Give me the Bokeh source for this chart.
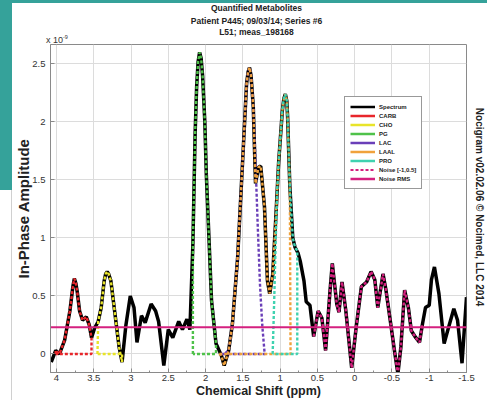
import math
from bokeh.plotting import figure
from bokeh.models import (Range1d, FixedTicker, NumeralTickFormatter, LinearAxis,
                          Legend, LegendItem, Div)
from bokeh.layouts import column, row
from bokeh.embed import file_html
from bokeh.resources import INLINE

# ---------------- data ----------------
spec_ppm = [4.07, 4.01, 3.96, 3.89, 3.82, 3.78, 3.76, 3.74, 3.72, 3.69, 3.65, 3.60, 3.56, 3.53,
            3.49, 3.44, 3.40, 3.36, 3.34, 3.32, 3.30, 3.27, 3.22, 3.16, 3.12, 3.07, 3.01, 2.96,
            2.92, 2.86, 2.81, 2.73, 2.67, 2.63, 2.56, 2.50, 2.44, 2.36, 2.31, 2.25, 2.21, 2.17,
            2.14, 2.12, 2.10, 2.08, 2.06, 2.04, 2.01, 1.99, 1.92, 1.86, 1.79, 1.75, 1.69, 1.64,
            1.57, 1.50, 1.45, 1.43, 1.41, 1.39, 1.36, 1.33, 1.29, 1.26, 1.21, 1.17, 1.14, 1.10,
            1.06, 1.02, 0.97, 0.95, 0.93, 0.91, 0.90, 0.87, 0.83, 0.80, 0.76, 0.73, 0.68, 0.65,
            0.60, 0.55, 0.49, 0.44, 0.39, 0.33, 0.30, 0.24, 0.21, 0.17, 0.12, 0.04, -0.02, -0.09,
            -0.16, -0.22, -0.27, -0.31, -0.38, -0.42, -0.49, -0.54, -0.58, -0.62, -0.67, -0.72,
            -0.76, -0.82, -0.87, -0.91, -0.95, -1.00, -1.03, -1.07, -1.13, -1.20, -1.26, -1.33,
            -1.38, -1.44, -1.50]
spec_amp = [-0.07, 0.03, 0.00, 0.12, 0.37, 0.58, 0.65, 0.61, 0.53, 0.37, 0.29, 0.32, 0.25, 0.14,
            0.22, 0.28, 0.40, 0.63, 0.69, 0.71, 0.69, 0.63, 0.37, 0.06, -0.07, 0.24, 0.50, 0.40,
            0.10, 0.33, 0.27, 0.43, 0.37, 0.28, -0.10, 0.21, 0.14, 0.28, 0.21, 0.30, 0.21, 0.95,
            1.90, 2.30, 2.52, 2.60, 2.55, 2.40, 2.00, 1.55, 0.46, 0.09, -0.01, -0.10, 0.03, 0.26,
            0.83, 1.70, 2.33, 2.43, 2.47, 2.40, 2.13, 1.47, 1.61, 1.62, 1.27, 0.63, 0.52, 0.68,
            1.15, 1.65, 2.10, 2.20, 2.24, 2.18, 2.05, 1.45, 1.00, 0.92, 0.87, 0.80, 0.63, 0.45,
            0.42, 0.15, 0.37, 0.31, 0.03, 0.55, 0.78, 0.43, 0.36, 0.62, 0.38, -0.12, 0.23, 0.58,
            0.62, 0.71, 0.64, 0.40, 0.69, 0.55, 0.23, 0.00, -0.17, 0.06, 0.55, 0.40,
            0.20, 0.14, 0.10, 0.26, 0.40, 0.42, 0.64, 0.75, 0.52, 0.09, 0.23, 0.39,
            0.29, -0.08, 0.49]

# windows (ppm) where a metabolite follows the spectrum
carb_window = (3.53, 4.01)
cho_window = (3.12, 3.45)
pg_window = (1.86, 2.17)
laal_window = (0.86, 1.82)
noise_window = (-0.92, 0.55)

# metabolites with their own fitted shape
lac_ppm = [1.80, 1.75, 1.69, 1.64, 1.57, 1.50, 1.45, 1.43, 1.41, 1.39, 1.36, 1.33, 1.30, 1.27, 1.24, 1.21, 1.20, 1.80]
lac_amp = [0.00, 0.00, 0.03, 0.26, 0.83, 1.70, 2.33, 2.43, 2.47, 2.40, 2.13, 1.65, 1.10, 0.60, 0.25, 0.02, 0.00, 0.00]
pro_ppm = [1.10, 1.08, 1.06, 1.04, 1.02, 0.97, 0.95, 0.93, 0.91, 0.90, 0.87, 0.83, 0.80, 0.77, 0.77, 1.10]
pro_amp = [0.00, 0.45, 0.95, 1.40, 1.65, 2.10, 2.20, 2.24, 2.18, 2.05, 1.45, 1.00, 0.92, 0.89, 0.00, 0.00]

noise_rms = 0.23

x_ticks = [4, 3.5, 3, 2.5, 2, 1.5, 1, 0.5, 0, -0.5, -1, -1.5]
x_minor = [4, 3.75, 3.5, 3.25, 3, 2.75, 2.5, 2.25, 2, 1.75, 1.5, 1.25, 1, 0.75, 0.5, 0.25,
           0, -0.25, -0.5, -0.75, -1, -1.25, -1.5]
y_ticks = [0, 0.5, 1, 1.5, 2, 2.5]

legend_labels = ["Spectrum", "CARB", "CHO", "PG", "LAC", "LAAL", "PRO", "Noise [-1,0.5]", "Noise RMS"]
colors = {"Spectrum": "#000000", "CARB": "#e8262b", "CHO": "#e8e42a", "PG": "#4fc24a",
          "LAC": "#6a3fb8", "LAAL": "#f0a23c", "PRO": "#3fd2b0",
          "Noise [-1,0.5]": "#d4207f", "Noise RMS": "#d4207f"}

title_lines = ["Quantified Metabolites", "Patient P445; 09/03/14; Series #6", "L51; meas_198168"]
scale_text = "x 10<sup style='font-size:5.5px'>-9</sup>"
credit_text = "Nocigram v02.02.06 \u00a9 Nocimed, LLC  2014"

FONT = "Liberation Sans"
TEAL = "#35a29a"


def window_path(lo, hi, baseline=True):
    xs = [x for x in spec_ppm if lo <= x <= hi]
    ys = [y for x, y in zip(spec_ppm, spec_amp) if lo <= x <= hi]
    if baseline:
        xs = [hi] + xs + [lo, hi]
        ys = [0.0] + ys + [0.0, 0.0]
    return xs, ys


# ---------------- figure ----------------
p = figure(width=475, height=356, title=None, margin=0,
           x_range=Range1d(4.08, -1.5), y_range=Range1d(-0.16, 2.668),
           output_backend="svg", toolbar_location=None,
           min_border_left=34, min_border_right=20, min_border_top=0, min_border_bottom=28)
p.background_fill_color = "white"
p.border_fill_color = "white"
p.outline_line_color = "#8a8a8a"
p.outline_line_width = 1

for ax in (p.xaxis[0], p.yaxis[0]):
    ax.axis_line_color = "#8a8a8a"
    ax.major_tick_line_color = "#8a8a8a"
    ax.minor_tick_line_color = "#8a8a8a"
    ax.major_tick_in = 4
    ax.major_tick_out = 0
    ax.minor_tick_in = 2
    ax.minor_tick_out = 0
    ax.major_label_text_font = FONT
    ax.major_label_text_font_size = "9.5px"
    ax.major_label_text_color = "#333333"
    ax.formatter = NumeralTickFormatter(format="0.[0]")
    ax.axis_label_text_font = FONT
    ax.axis_label_text_font_style = "bold"
    ax.axis_label_text_color = "#222222"
p.xaxis[0].ticker = FixedTicker(ticks=x_ticks, minor_ticks=x_minor)
p.yaxis[0].ticker = FixedTicker(ticks=y_ticks, minor_ticks=[])
p.xaxis[0].major_label_standoff = 2
p.yaxis[0].major_label_standoff = 5
p.xaxis[0].axis_label = "Chemical Shift (ppm)"
p.xaxis[0].axis_label_text_font_size = "12.5px"
p.xaxis[0].axis_label_standoff = 0
p.yaxis[0].axis_label = "In-Phase Amplitude"
p.yaxis[0].axis_label_text_font_size = "15px"
p.yaxis[0].axis_label_standoff = -3

right_ax = LinearAxis(ticker=FixedTicker(ticks=[], minor_ticks=[]), axis_line_color=None,
                      major_label_standoff=0, axis_label=credit_text,
                      axis_label_text_font=FONT, axis_label_text_font_style="bold",
                      axis_label_text_font_size="10px", axis_label_text_color="#222222",
                      axis_label_standoff=7)
p.add_layout(right_ax, "right")

p.xgrid.ticker = FixedTicker(ticks=x_ticks)
p.ygrid.ticker = FixedTicker(ticks=y_ticks)
p.xgrid.grid_line_color = "#dcdcdc"
p.ygrid.grid_line_color = "#dcdcdc"

# ---------------- lines ----------------
p.line(spec_ppm, spec_amp, color=colors["Spectrum"], line_width=3.5)

DASH = "3 2"
W = 2.4
xs, ys = window_path(*carb_window)
p.line(xs, ys, color=colors["CARB"], line_width=W, line_dash=DASH)
xs, ys = window_path(*cho_window)
p.line(xs, ys, color=colors["CHO"], line_width=W, line_dash=DASH)
xs, ys = window_path(*pg_window)
p.line(xs, ys, color=colors["PG"], line_width=W, line_dash=DASH)
p.line(lac_ppm, lac_amp, color=colors["LAC"], line_width=W, line_dash=DASH)
xs, ys = window_path(*laal_window)
p.line(xs, ys, color=colors["LAAL"], line_width=W, line_dash=DASH)
p.line(pro_ppm, pro_amp, color=colors["PRO"], line_width=W, line_dash=DASH)
xs, ys = window_path(*noise_window, baseline=False)
p.line(xs, ys, color=colors["Noise [-1,0.5]"], line_width=W, line_dash=DASH)
p.line([p.x_range.start, p.x_range.end], [noise_rms, noise_rms],
       color=colors["Noise RMS"], line_width=2)

# ---------------- legend (sample glyphs only) ----------------
items = []
for lab in legend_labels:
    if lab == "Noise [-1,0.5]":
        r = p.line([math.nan], [math.nan], color=colors[lab], line_width=2, line_dash="3 2")
    else:
        r = p.line([math.nan], [math.nan], color=colors[lab], line_width=2.5)
    items.append(LegendItem(label=lab, renderers=[r]))
legend = Legend(items=items, location=(294, 183), margin=0, padding=5, spacing=0,
                glyph_width=25, glyph_height=9, label_height=9, label_standoff=4,
                label_text_font=FONT, label_text_font_style="bold",
                label_text_font_size="6px", label_text_color="#222222",
                border_line_color="#333333", border_line_width=1,
                background_fill_color="white", background_fill_alpha=1)
p.add_layout(legend)

# ---------------- title block and slide edge ----------------
line_tops = [3, 15.5, 27]
parts = ["<div style=\"position:relative;width:487px;height:44px;overflow:hidden;background:#fff;"
         "font-family:'Liberation Sans',Arial,sans-serif;color:#222;\">",
         f"<div style='position:absolute;left:0;top:0;width:487px;height:3px;background:{TEAL};'></div>",
         f"<div style='position:absolute;left:0;top:0;width:12px;height:44px;background:{TEAL};'></div>"]
for t, top in zip(title_lines, line_tops):
    parts.append(f"<div style='position:absolute;left:46px;width:421px;top:{top}px;text-align:center;"
                 f"font-weight:bold;font-size:8.5px;line-height:10px;white-space:nowrap;'>{t}</div>")
parts.append("<div style='position:absolute;left:46px;top:32px;font-size:9px;line-height:11px;"
             f"color:#333;white-space:nowrap;'>{scale_text}</div>")
parts.append("</div>")
top_div = Div(text="".join(parts), width=487, height=44, margin=0)

left_html = ("<div style='position:relative;width:12px;height:356px;background:#fff;'>"
             f"<div style='position:absolute;left:0;top:0;width:12px;height:146px;background:{TEAL};'></div>"
             "<div style='position:absolute;left:11px;top:146px;width:1px;height:210px;background:#d0d0d0;'></div>"
             "</div>")
left_div = Div(text=left_html, width=12, height=356, margin=0)

layout = column(top_div, row(left_div, p, spacing=0, margin=0), spacing=0, margin=0)

open("out.html", "w").write(file_html(layout, INLINE))
